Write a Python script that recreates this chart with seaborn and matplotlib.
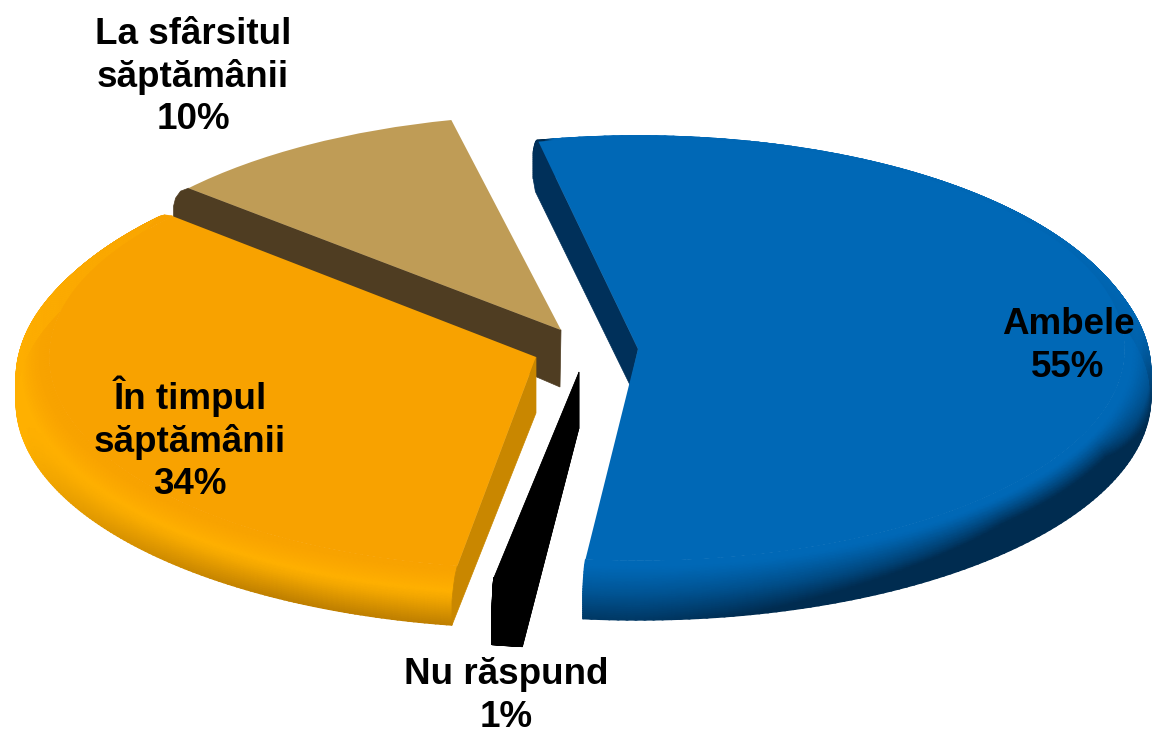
import numpy as np
import matplotlib
matplotlib.use("Agg")
import matplotlib.pyplot as plt
import seaborn as sns
from matplotlib.colors import LinearSegmentedColormap
from matplotlib.transforms import Affine2D

# data
categories = ["Ambele", "Nu răspund", "În timpul\nsăptămânii", "La sfârsitul\nsăptămânii"]
values = [55, 1, 34, 10]

# look of the 3D pie, in pixels of the picture
SQUASH = 0.435
apex = [(638, 349), (579, 372), (536, 357), (561, 330)]
flat_r = [487, 480, 487, 495]
outer_r = [513, 492, 520, 495]
depth = [48, 62, 45, 0]
rotate = [0, -0.4, 0.5, 1.0]
draw_order = [3, 1, 0, 2]

top_colors = sns.color_palette(["#0068B6", "#000000", "#F8A200", "#BF9C56"])
face_colors = ["#00305A", "#000000", "#C98700", "#4F3D22"]
rim_stops = [
    ["#0068B6", "#002C50"],
    ["#000000", "#000000"],
    ["#F8A200", "#FFB000", "#C08000"],
    ["#4F3D22", "#4F3D22"],
]
# which straight edge shows a side, how far its inner end drops, extra points at its outer end
faces = [
    [("theta2", (-8, 36), [(-3, 50)])],
    [("theta1", (0, 56), []), ("theta2", (0, 56), [])],
    [("theta2", (0, 56), [])],
    [("theta2", (-1, 57), [(-8, 3), (-13, 10), (-15, 18), (-15, 33)])],
]

labels = [
    ("Ambele\n55%", 1068, 346),
    ("Nu răspund\n1%", 506, 696),
    ("În timpul\nsăptămânii\n34%", 190, 439),
    ("La sfârsitul\nsăptămânii\n10%", 193, 77),
]

sns.set_theme(style="white")
plt.rcParams["font.family"] = ["Liberation Sans", "DejaVu Sans"]

fig, ax = plt.subplots(figsize=(11.53, 7.37), dpi=100)
fig.subplots_adjust(0, 0, 1, 1)

wedges, _ = ax.pie(values, colors=top_colors, startangle=101.8, counterclock=False,
                   radius=1, wedgeprops=dict(linewidth=0))
ax.set_aspect("auto")
ax.set_xlim(0, 1153)
ax.set_ylim(737, 0)
ax.axis("off")


def point(i, theta, r):
    a = np.deg2rad(theta)
    return apex[i][0] + r * np.cos(a), apex[i][1] - SQUASH * r * np.sin(a)


def rim_xy(i, theta, t):
    r = flat_r[i] + (outer_r[i] - flat_r[i]) * np.sqrt(np.clip(t / 0.45, 0, 1))
    x, y = point(i, theta, r)
    return x, y + depth[i] * t


def rim_shade(i, th, t):
    # how lit the rim is, 0 = top colour, 1 = darkest
    a = np.deg2rad(th)
    if i == 0:
        w = np.clip(np.cos(a) * 1.4, 0, 1) * np.clip(-np.sin(a) * 2.5, 0, 1)
        reach = 1.2 - 0.85 * w
        shade = np.clip(np.clip(t - 0.05, 0, 1) / reach, 0, 1)
        shade = shade * np.clip(1 - np.sin(a) * 4, 0.12, 1)
        return np.where(th > 100.5, 1.0, shade)
    if i == 2:
        w = np.clip(-np.sin(a) * 1.5 - 0.3, 0, 1)
        low = np.clip(t / 0.3, 0, 1) * 0.5 * np.clip(1 - np.sin(a), 0.2, 1)
        return low + np.clip((t - 0.3) / 0.7, 0, 1) * 0.5 * w
    return np.ones_like(t)


for z, i in enumerate(draw_order):
    w = wedges[i]
    w.set_theta1(w.theta1 + rotate[i])
    w.set_theta2(w.theta2 + rotate[i])
    base = z * 10 + 1

    # outer rim, as a smooth mesh running round the arc
    if depth[i] > 0:
        th = np.linspace(w.theta1, w.theta2, 200)
        t = np.linspace(0, 1, 24)
        TH, T = np.meshgrid(th, t)
        X, Y = rim_xy(i, TH, T)
        cmap = LinearSegmentedColormap.from_list("rim%d" % i, rim_stops[i])
        ax.pcolormesh(X, Y, rim_shade(i, TH, T), cmap=cmap, vmin=0, vmax=1,
                      shading="gouraud", zorder=base, linewidth=0, rasterized=True)

    # cut faces, following the end of the rim
    for edge, drop_in, extra in faces[i]:
        theta = getattr(w, edge)
        x1, y1 = point(i, theta, flat_r[i])
        xs = [apex[i][0], x1]
        ys = [apex[i][1], y1]
        if depth[i] > 0:
            cx, cy = rim_xy(i, theta, np.linspace(0, 1, 16))
            xs += list(cx)
            ys += list(cy)
        for dx, dy in extra:
            xs.append(x1 + dx)
            ys.append(y1 + dy)
        xs.append(apex[i][0] + drop_in[0])
        ys.append(apex[i][1] + drop_in[1])
        ax.fill(xs, ys, color=face_colors[i], linewidth=0.5, zorder=base + 1)

    # a thin slice shows both sides, close the gap between them
    if len(faces[i]) == 2:
        xa, ya = rim_xy(i, w.theta1, 1.0)
        xb, yb = rim_xy(i, w.theta2, 1.0)
        ax.fill([xa, xb, apex[i][0]], [ya, yb, apex[i][1] + faces[i][0][1][1]],
                color=face_colors[i], linewidth=0.5, zorder=base + 1)

    # flat top, the pie wedge itself squashed onto the picture
    w.set_transform(Affine2D().scale(flat_r[i], -SQUASH * flat_r[i])
                    .translate(*apex[i]) + ax.transData)
    w.set_zorder(base + 2)

for text, x, y in labels:
    ax.text(x, y, text, ha="center", va="center", fontsize=26.5, fontweight="bold",
            color="black", linespacing=1.26, zorder=100)

fig.savefig("out.png", dpi=100)
